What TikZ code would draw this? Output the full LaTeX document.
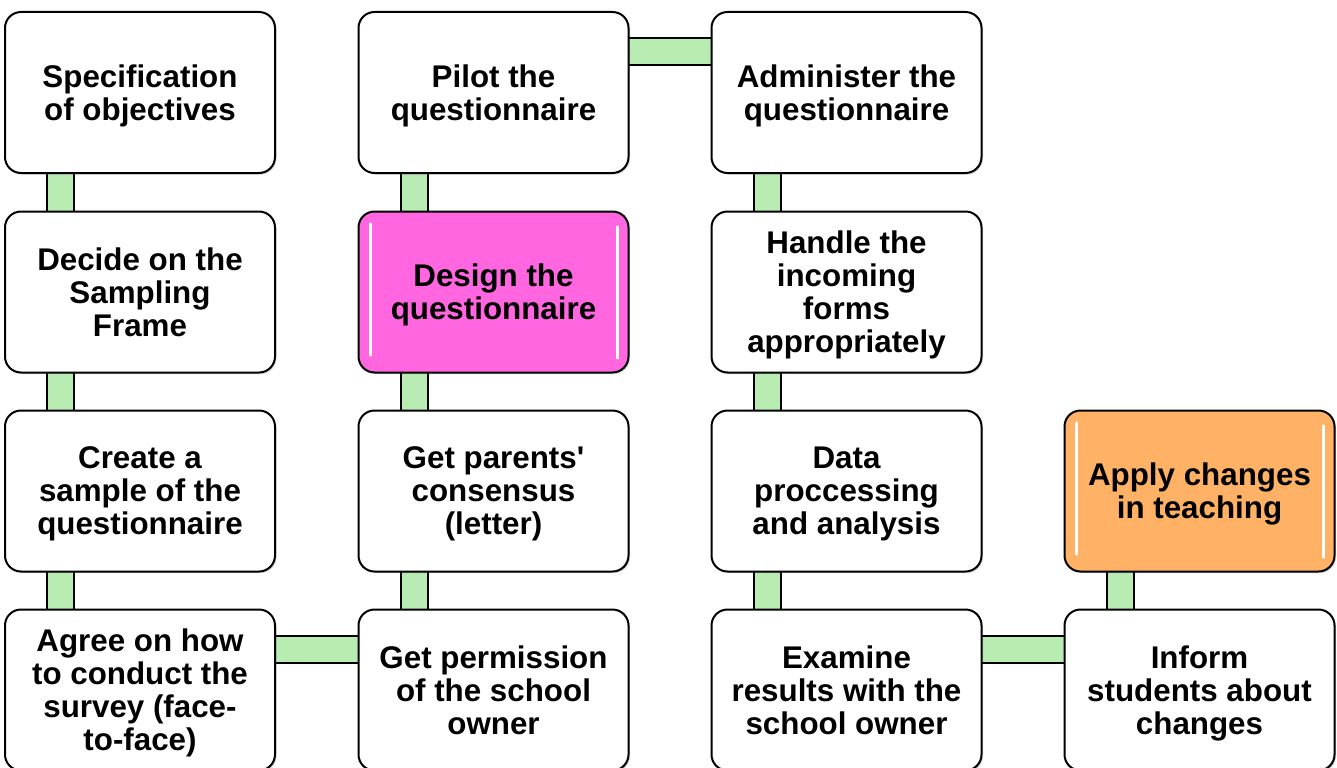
\documentclass[tikz,border=0pt]{standalone}
\usepackage{fontspec}
\setmainfont{Liberation Sans}
\usepackage{xcolor}
\usepackage{tikz}
\usetikzlibrary{positioning,calc,backgrounds,shadows}

\definecolor{pinkfill}{RGB}{255,102,224}
\definecolor{orangefill}{RGB}{255,178,102}
\definecolor{linkgreen}{RGB}{184,236,178}

\tikzset{
    stepbox/.style={draw, line width=1.5pt, rounded corners=12pt, fill=white,
        minimum width=202.5pt, minimum height=120.75pt, inner sep=0pt, align=center,
        text depth=0pt, font=\bfseries\fontsize{23.5}{24.75}\selectfont,
        drop shadow={shadow xshift=1.2pt, shadow yshift=-1.2pt, opacity=0.3}},
    pinkbox/.style={stepbox, fill=pinkfill},
    orangebox/.style={stepbox, fill=orangefill},
    link/.style={draw, line width=1.5pt, fill=linkgreen},
    gloss/.style={white, line width=1.6pt, line cap=round}
}

\begin{document}
\begin{tikzpicture}[x=0.75pt, y=-0.75pt]
    \useasboundingbox (0,0) rectangle (1337,767);

    % first column
    \node [stepbox] (spec) at (140,92.5) {Specification\\of objectives};
    \node [stepbox] (frame) at (140,292) {Decide on the\\Sampling\\Frame};
    \node [stepbox] (sample) at (140,491) {Create a\\sample of the\\questionnaire};
    \node [stepbox] (agree) at (140,690) {Agree on how\\to conduct the\\survey (face-\\to-face)};

    % second column
    \node [stepbox] (pilot) at (493.5,92.5) {Pilot the\\questionnaire};
    \node [pinkbox] (design) at (493.5,292) {Design the\\questionnaire};
    \node [stepbox] (parents) at (493.5,491) {Get parents\textquotesingle\\consensus\\(letter)};
    \node [stepbox] (permit) at (493.5,690) {Get permission\\of the school\\owner};

    % third column
    \node [stepbox] (admin) at (846.5,92.5) {Administer the\\questionnaire};
    \node [stepbox] (forms) at (846.5,292) {Handle the\\incoming\\forms\\appropriately};
    \node [stepbox] (data) at (846.5,491) {Data\\proccessing\\and analysis};
    \node [stepbox] (examine) at (846.5,690) {Examine\\results with the\\school owner};

    % fourth column
    \node [orangebox] (apply) at (1199.5,491) {Apply changes\\in teaching};
    \node [stepbox] (inform) at (1199.5,690) {Inform\\students about\\changes};

    % highlights
    \draw [gloss] ($(design.north west)+(13,13)$) -- ($(design.south west)+(13,-18)$);
    \draw [gloss] ($(design.north east)+(-12,16)$) -- ($(design.south east)+(-12,-15)$);
    \draw [gloss] ($(apply.north west)+(13,13)$) -- ($(apply.south west)+(13,-18)$);
    \draw [gloss] ($(apply.north east)+(-12,16)$) -- ($(apply.south east)+(-12,-15)$);

    \begin{scope}[on background layer]
        \draw [link] ($(spec.south west)+(43,-5)$) rectangle ($(frame.north west)+(70,5)$);
        \draw [link] ($(frame.south west)+(43,-5)$) rectangle ($(sample.north west)+(70,5)$);
        \draw [link] ($(sample.south west)+(43,-5)$) rectangle ($(agree.north west)+(70,5)$);
        \draw [link] ($(agree.north east)+(-5,27)$) rectangle ($(permit.north west)+(5,54)$);
        \draw [link] ($(permit.north west)+(43,5)$) rectangle ($(parents.south west)+(70,-5)$);
        \draw [link] ($(parents.north west)+(43,5)$) rectangle ($(design.south west)+(70,-5)$);
        \draw [link] ($(design.north west)+(43,5)$) rectangle ($(pilot.south west)+(70,-5)$);
        \draw [link] ($(pilot.north east)+(-5,27)$) rectangle ($(admin.north west)+(5,54)$);
        \draw [link] ($(admin.south west)+(43,-5)$) rectangle ($(forms.north west)+(70,5)$);
        \draw [link] ($(forms.south west)+(43,-5)$) rectangle ($(data.north west)+(70,5)$);
        \draw [link] ($(data.south west)+(43,-5)$) rectangle ($(examine.north west)+(70,5)$);
        \draw [link] ($(examine.north east)+(-5,27)$) rectangle ($(inform.north west)+(5,54)$);
        \draw [link] ($(inform.north west)+(43,5)$) rectangle ($(apply.south west)+(70,-5)$);
    \end{scope}
\end{tikzpicture}
\end{document}
